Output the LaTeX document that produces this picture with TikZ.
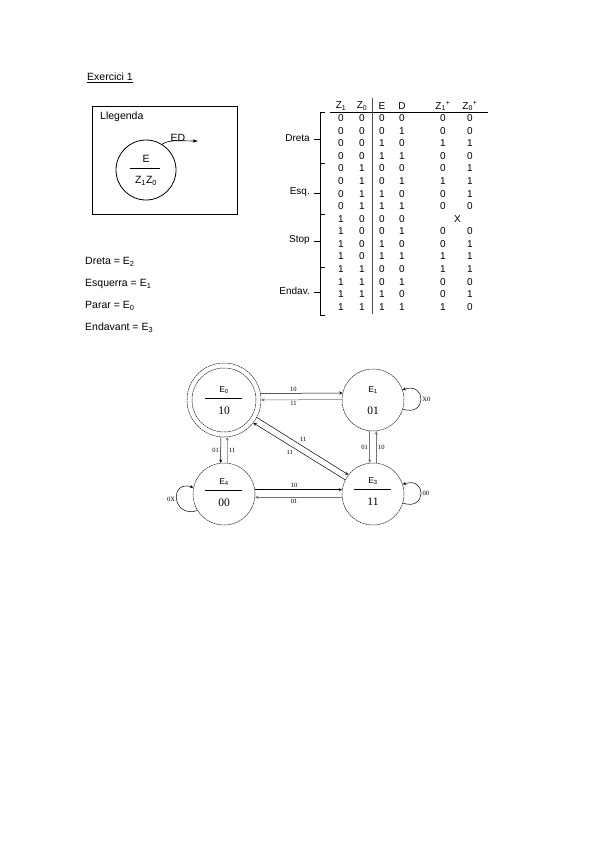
\documentclass[tikz,border=0pt]{standalone}
\usepackage{fontspec}
\setmainfont{Liberation Sans}
\newfontfamily\statefont{Liberation Serif}
\usetikzlibrary{arrows}
\tikzstyle{txt} = [font=\fontsize{10.5}{12}\selectfont, inner sep=0pt]
\tikzstyle{cell} = [font=\fontsize{10}{12}\selectfont, inner sep=0pt]
\tikzstyle{state} = [circle, draw=black!85, line width=0.5pt, dash pattern=on 2pt off 0.6pt, minimum size=62pt, inner sep=0pt]
\tikzstyle{stname} = [font=\fontsize{8.5}{10}\selectfont, inner sep=0pt]
\tikzstyle{stcode} = [font=\statefont\fontsize{11.5}{13}\selectfont, inner sep=0pt]
\tikzstyle{lbl} = [font=\statefont\fontsize{6.5}{8}\selectfont, inner sep=1.5pt]
\tikzstyle{arrow} = [line width=0.5pt,->,>=stealth]
\tikzstyle{back} = [arrow, draw=black!55]

\begin{document}
\begin{tikzpicture}[x=1pt,y=-1pt]
    \useasboundingbox (0,0) rectangle (599,848);

    % title and legend
    \node [txt, anchor=west] at (87,78) (title) {\underline{Exercici 1}};
    \draw [line width=0.6pt] (92,106) rectangle (237,214);
    \node [txt, anchor=west] at (100,117) (llegenda) {Llegenda};
    \node [circle, draw, line width=0.8pt, minimum size=60pt] at (146,170) (leg) {};
    \node [txt] at (146,159) (legE) {E};
    \draw [line width=0.6pt] (130,168) -- (160,168);
    \node [txt] at (146,181) (legZ) {Z\textsubscript{1}Z\textsubscript{0}};
    \coordinate (edend) at (198,141);
    \draw [line width=0.6pt,->,>=latex] (leg.58) .. controls +(6,-5) and +(-14,0) .. (edend);
    \node [txt, anchor=south] at (178,142) (ED) {ED};

    % equivalences
    \node [txt, anchor=west] at (85,262) (eq2) {Dreta = E\textsubscript{2}};
    \node [txt, anchor=west] at (85,284) (eq1) {Esquerra = E\textsubscript{1}};
    \node [txt, anchor=west] at (85,306) (eq0) {Parar = E\textsubscript{0}};
    \node [txt, anchor=west] at (85,328) (eq3) {Endavant = E\textsubscript{3}};

    % truth table
    \node [cell] at (341,106) (hZ1) {Z\textsubscript{1}};
    \node [cell] at (362,106) (hZ0) {Z\textsubscript{0}};
    \node [cell] at (382,106) (hE) {E};
    \node [cell] at (402,106) (hD) {D};
    \node [cell] at (443,106) (hZ1p) {Z\textsubscript{1}\textsuperscript{+}};
    \node [cell] at (470,106) (hZ0p) {Z\textsubscript{0}\textsuperscript{+}};
    \draw [line width=0.4pt] (330,112) -- (488,112);
    \draw [line width=0.6pt, draw=black!70] (372.5,98) -- (372.5,314);
    \foreach \a/\b/\c/\d/\p/\q [count=\i] in {0/0/0/0/0/0, 0/0/0/1/0/0, 0/0/1/0/1/1, 0/0/1/1/0/0,
        0/1/0/0/0/1, 0/1/0/1/1/1, 0/1/1/0/0/1, 0/1/1/1/0/0,
        1/0/0/0/{}/{}, 1/0/0/1/0/0, 1/0/1/0/0/1, 1/0/1/1/1/1,
        1/1/0/0/1/1, 1/1/0/1/0/0, 1/1/1/0/0/1, 1/1/1/1/1/0} {
      \node [cell] at (341,{118.3+(\i-1)*12.56}) (z1\i) {\a};
      \node [cell] at (362,{118.3+(\i-1)*12.56}) (z0\i) {\b};
      \node [cell] at (382,{118.3+(\i-1)*12.56}) (e\i) {\c};
      \node [cell] at (402,{118.3+(\i-1)*12.56}) (d\i) {\d};
      \node [cell] at (443,{118.3+(\i-1)*12.56}) (z1p\i) {\p};
      \node [cell] at (470,{118.3+(\i-1)*12.56}) (z0p\i) {\q};
    }
    \node [cell] at (457.5,218.8) (xrow) {X};

    % brackets
    \draw [line width=0.4pt] (325,112) -- (320,112) -- (320,315) -- (325,315);
    \foreach \y in {163.3,214,266.7}
      \draw [line width=0.4pt] (320,\y) -- (325,\y);
    \node [cell, anchor=east] at (310,138) (dreta) {Dreta};
    \node [cell, anchor=east] at (310,192) (esq) {Esq.};
    \node [cell, anchor=east] at (310,240) (stop) {Stop};
    \node [cell, anchor=east] at (310,291) (endav) {Endav.};
    \foreach \y in {139,193,241,292}
      \draw [line width=0.4pt] (314,\y) -- (320,\y);

    % state diagram
    \node [state, minimum size=74pt] at (224,400) (s0) {};
    \node [state, minimum size=64pt] at (224,400) (s0in) {};
    \node [state] at (373,400) (s1) {};
    \node [state] at (224,494) (s4) {};
    \node [state] at (373,494) (s3) {};
    \node [stname] at (224,390) (s0n) {E\textsubscript{0}};
    \draw [line width=0.6pt] (205,398) -- (242,398);
    \node [stcode] at (224,411) (s0c) {10};
    \node [stname] at (373,390) (s1n) {E\textsubscript{1}};
    \node [stcode] at (373,411) (s1c) {01};
    \node [stname] at (224,482) (s4n) {E\textsubscript{4}};
    \draw [line width=0.6pt] (205,490) -- (242,490);
    \node [stcode] at (224,503) (s4c) {00};
    \node [stname] at (373,481) (s3n) {E\textsubscript{3}};
    \draw [line width=0.6pt] (354,489) -- (391,489);
    \node [stcode] at (373,502) (s3c) {11};

    \draw [arrow] (s0.10) -- node [lbl, above, pos=0.4] {10} (s1.167);
    \draw [back] (s1.179) -- node [lbl, below, pos=0.6] {11} (s0.0);
    \draw [arrow] (s0.265) -- node [lbl, left] {01} (s4.96);
    \draw [back] (s4.84) -- node [lbl, right] {11} (s0.275);
    \draw [back] (s1.264) -- node [lbl, left] {01} (s3.96);
    \draw [back] (s3.84) -- node [lbl, right] {10} (s1.276);
    \draw [arrow] (s4.8) -- node [lbl, above, pos=0.45] {10} (s3.172);
    \draw [back] (s3.186) -- node [lbl, below, pos=0.55] {01} (s4.354);
    \draw [arrow] (s0.332) -- node [lbl, above right, pos=0.45] {11} (s3.142);
    \draw [arrow] (s3.153) -- node [lbl, below left, pos=0.55] {11} (s0.322);
    \draw [arrow] (s1.-17) .. controls +(24,8) and +(24,-8) .. node [lbl, right] {X0} (s1.19);
    \draw [arrow] (s3.-17) .. controls +(24,8) and +(24,-8) .. node [lbl, right] {00} (s3.18);
    \draw [arrow] (s4.212) .. controls +(-26,8) and +(-24,-8) .. node [lbl, left] {0X} (s4.168);
\end{tikzpicture}
\end{document}
